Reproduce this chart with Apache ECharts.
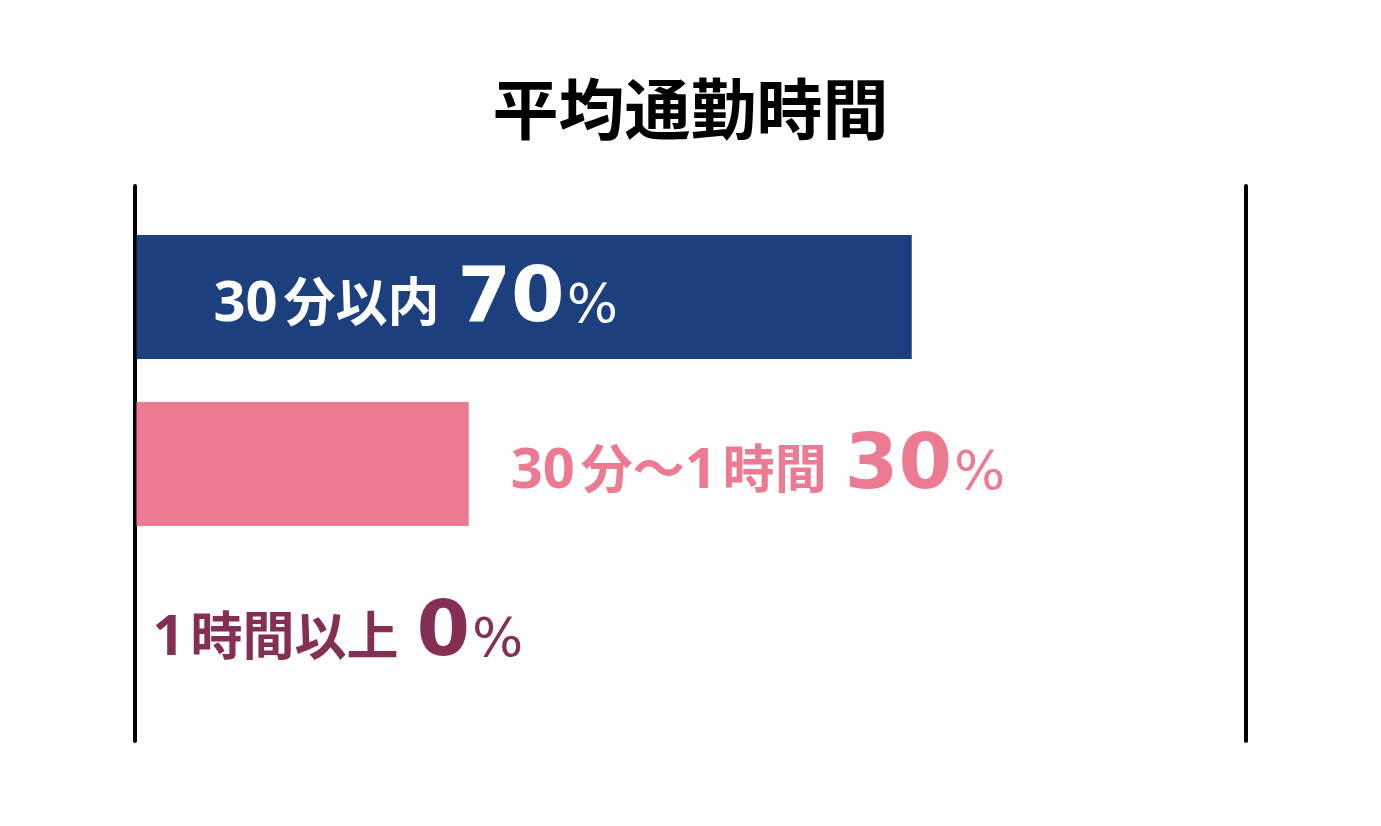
<!DOCTYPE html>
<html>
<head>
<meta charset="utf-8">
<style>html,body{margin:0;padding:0;background:#fff;}#c{width:1381px;height:826px;}</style>
<script src="https://cdn.jsdelivr.net/npm/echarts@6/dist/echarts.min.js"></script>
</head>
<body>
<div id="c"></div>
<script>
const titleText = '平均通勤時間';
const categories = ['30分以内', '30分～1時間', '1時間以上'];
const values = [70, 30, 0];
const unit = '%';

const barColors = ['#1c3f7e', '#ec7a90', '#ec7a90'];
const labelColors = ['#ffffff', '#ec7a90', '#852f55'];
const labelPlacement = [
  { position: 'insideLeft', distance: 77 },
  { position: 'right', distance: 42 },
  { position: 'right', distance: 16 }
];

function richFor(color) {
  return {
    d: { fontFamily: 'Open Sans', fontWeight: 'bold', fontSize: 56, color: color, verticalAlign: 'bottom', lineHeight: 80, padding: [0, 6, 6, 0] },
    c: { fontFamily: 'Noto Sans CJK JP', fontWeight: 'bold', fontSize: 52, color: color, verticalAlign: 'bottom', lineHeight: 80, padding: [0, 0, 12, 0] },
    s: { fontFamily: 'Noto Sans CJK JP', fontSize: 48, color: color, width: 18, verticalAlign: 'bottom', lineHeight: 80 },
    v: { fontFamily: 'DejaVu Sans', fontWeight: 'bold', fontSize: 77, color: color, verticalAlign: 'bottom', lineHeight: 80 },
    p: { fontFamily: 'DejaVu Sans', fontWeight: 'normal', fontSize: 54, color: color, verticalAlign: 'bottom', lineHeight: 80, padding: [0, 0, 4, 2] }
  };
}

function fmt(p) {
  const namePart = p.name.replace(/(\d+)|([^\d]+)/g, function (m, d, o) {
    return d ? '{d|' + d + '}' : '{c|' + o + '}';
  });
  return namePart + '{s| }' + '{v|' + p.value + '}{p|' + unit + '}';
}

const barData = values.map(function (v, i) {
  return {
    value: v,
    itemStyle: { color: barColors[i] },
    label: {
      show: true,
      position: labelPlacement[i].position,
      distance: labelPlacement[i].distance,
      offset: [0, 2],
      color: labelColors[i],
      formatter: fmt,
      rich: richFor(labelColors[i])
    }
  };
});

const chart = echarts.init(document.getElementById('c'), null, { renderer: 'canvas' });
chart.setOption({
  animation: false,
  backgroundColor: '#ffffff',
  title: {
    text: titleText,
    left: 'center',
    top: 71,
    textStyle: { fontFamily: 'Noto Sans CJK JP', fontWeight: 'bold', fontSize: 66, color: '#000000' }
  },
  grid: [
    { left: 136.5, width: 1107.5, top: 213.5, height: 501 },
    { left: 134.5, width: 1111, top: 186, height: 555 }
  ],
  xAxis: [
    { type: 'value', gridIndex: 0, min: 0, max: 100, show: false },
    { type: 'value', gridIndex: 1, min: 0, max: 1, show: false }
  ],
  yAxis: [
    { type: 'category', gridIndex: 0, data: categories, inverse: true, show: false },
    {
      type: 'value', gridIndex: 1, position: 'left', min: 0, max: 1,
      axisLine: { show: true, lineStyle: { color: '#000', width: 4, cap: 'round' } },
      axisTick: { show: false }, axisLabel: { show: false }, splitLine: { show: false }
    },
    {
      type: 'value', gridIndex: 1, position: 'right', min: 0, max: 1,
      axisLine: { show: true, lineStyle: { color: '#000', width: 4, cap: 'round' } },
      axisTick: { show: false }, axisLabel: { show: false }, splitLine: { show: false }
    }
  ],
  series: [
    {
      type: 'bar',
      xAxisIndex: 0,
      yAxisIndex: 0,
      barWidth: 124,
      silent: true,
      data: barData
    }
  ]
});
</script>
</body>
</html>
